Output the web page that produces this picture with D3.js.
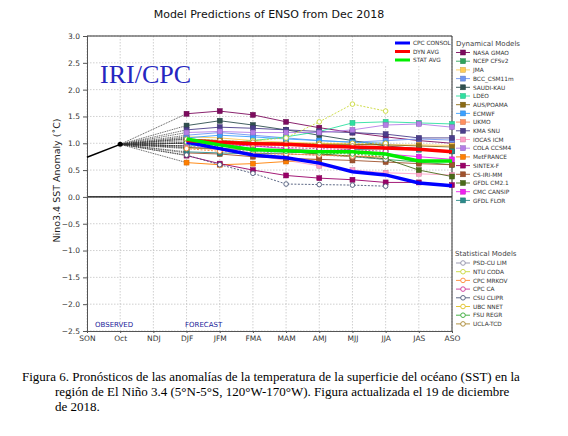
<!DOCTYPE html>
<html>
<head>
<meta charset="utf-8">
<script src="https://cdn.jsdelivr.net/npm/d3@7"></script>
<style>
  body { margin: 0; background: #fff; }
  svg { display: block; }
</style>
</head>
<body>
<div id="chart"></div>
<script>
// seasons on the x axis
const seasons = ["SON", "Oct", "NDJ", "DJF", "JFM", "FMA", "MAM", "AMJ", "MJJ", "JJA", "JAS", "ASO"];
const forecastSeasons = seasons.slice(3);
const yTicks = [-2.5, -2.0, -1.5, -1.0, -0.5, 0.0, 0.5, 1.0, 1.5, 2.0, 2.5, 3.0];

// observed values
const observed = [0.74, 0.98];

// dynamical models (DJF -> ASO)
const dynNames = ["NASA GMAO", "NCEP CFSv2", "JMA", "BCC_CSM11m", "SAUDI-KAU", "LDEO", "AUS/POAMA", "ECMWF", "UKMO",
  "KMA SNU", "IOCAS ICM", "COLA CCSM4", "MetFRANCE", "SINTEX-F", "CS-IRI-MM", "GFDL CM2.1", "CMC CANSIP", "GFDL FLOR"];
const dynColors = ["#7d0b5e", "#2fa35a", "#ffcc55", "#6f95f0", "#2f4f4f", "#2ee0a0", "#8b6a14", "#3aa0ff", "#ff9060",
  "#4b3d8b", "#ffa0c8", "#b57ee6", "#ff7f00", "#9a0068", "#a0522d", "#4a6a18", "#ee20ee", "#2a8a8a"];
const dynValues = [
  [1.55, 1.60, 1.53, 1.40, 1.29, 1.20, 1.12, 1.05, 1.00],
  [1.00, 0.98, 0.90, 0.85, 0.80, 0.75, 0.70, 0.65, 0.60],
  [1.12, 1.10, 1.05, 1.02, 1.00, 0.98, 0.97, 0.97, 0.96],
  [1.15, 1.20, 1.15, 1.10, 1.05, 1.02, 1.05, 1.08, 1.06],
  [1.33, 1.42, 1.34, 1.25, 1.15, 1.05, 0.95, 0.90, 0.85],
  [0.95, 1.00, 1.05, 1.12, 1.22, 1.38, 1.40, 1.38, 1.36],
  [1.08, 1.05, 1.02, 1.00, 0.98, 0.98, 0.97, 0.95, 0.93],
  [1.10, 1.15, 1.12, 1.08, 1.05, 1.02, 1.00],
  [0.92, 0.88, 0.82, 0.80, 0.78, 0.76, 0.74],
  [1.25, 1.30, 1.28, 1.25, 1.22, 1.20, 1.17, 1.10, 1.10],
  [0.95, 0.88, 0.78, 0.68, 0.58, 0.50, 0.45, 0.43, 0.41],
  [1.20, 1.22, 1.20, 1.20, 1.20, 1.25, 1.34, 1.36, 1.30],
  [0.64, 0.60, 0.62, 0.66, 0.70],
  [0.77, 0.62, 0.50, 0.40, 0.35, 0.32, 0.27, 0.27, 0.22],
  [0.82, 0.80, 0.75, 0.72, 0.70, 0.68, 0.65, 0.62, 0.60],
  [0.92, 0.90, 0.88, 0.85, 0.80, 0.76, 0.71, 0.50, 0.38],
  [1.00, 0.98, 0.95, 0.90, 0.85, 0.82, 0.80, 0.75, 0.70],
  [0.84, 0.82, 0.80, 0.82, 0.85, 0.88, 0.90, 0.88, 0.85]
];

// statistical models (DJF -> JJA)
const statNames = ["PSD-CU LIM", "NTU CODA", "CPC MRKOV", "CPC CA", "CSU CLIPR", "UBC NNET", "FSU REGR", "UCLA-TCD"];
const statColors = ["#9090a8", "#c8d838", "#ff8833", "#cc3399", "#4c5878", "#e0c020", "#33a833", "#a8862e"];
const statValues = [
  [0.95, 0.90, 0.85, 0.80, 0.78, 0.75, 0.70],
  [1.00, 1.00, 1.05, 1.10, 1.40, 1.73, 1.60],
  [0.90, 0.85, 0.80, 0.80, 0.78, 0.76, 0.75],
  [1.00, 0.98, 0.95, 0.92, 0.90, 0.88, 0.85],
  [0.78, 0.60, 0.44, 0.24, 0.23, 0.22, 0.20],
  [1.05, 1.00, 0.98, 0.98, 1.00, 1.00, 1.00],
  [1.02, 0.95, 0.88, 0.85, 0.82, 0.80, 0.75],
  [1.08, 1.05, 1.02, 1.00, 0.98, 0.95, 0.93]
];

// averages
const avgNames = ["CPC CONSOL", "DYN AVG", "STAT AVG"];
const avgColors = ["#0000ff", "#ff0000", "#00ee00"];
const avgValues = [
  [1.02, 0.90, 0.78, 0.73, 0.63, 0.47, 0.41, 0.26, 0.21],
  [1.05, 1.02, 0.99, 0.98, 0.95, 0.93, 0.91, 0.89, 0.84],
  [1.08, 0.97, 0.88, 0.86, 0.84, 0.84, 0.80, 0.67, 0.67]
];

const width = 568;
const height = 436;
const sans = "DejaVu Sans, sans-serif";
const serif = "Liberation Serif, serif";

const svg = d3.select("#chart")
  .append("svg")
  .attr("width", width)
  .attr("height", height)
  .attr("font-family", sans);

const x = d3.scalePoint().domain(seasons).range([87, 452]);
const y = d3.scaleLinear().domain([-2.5, 3.0]).range([331, 36]);

// grid
svg.append("g")
  .selectAll("line")
  .data(yTicks)
  .enter()
  .append("line")
  .attr("x1", x.range()[0])
  .attr("x2", x.range()[1])
  .attr("y1", d => y(d))
  .attr("y2", d => y(d))
  .attr("stroke", "#bbb")
  .attr("stroke-width", 0.7)
  .attr("stroke-dasharray", "1.5,1.5");

svg.append("g")
  .selectAll("line")
  .data(seasons)
  .enter()
  .append("line")
  .attr("x1", d => x(d))
  .attr("x2", d => x(d))
  .attr("y1", y(3.0))
  .attr("y2", y(-2.5))
  .attr("stroke", "#bbb")
  .attr("stroke-width", 0.7)
  .attr("stroke-dasharray", "1.5,1.5");

// zero line
svg.append("line")
  .attr("x1", x.range()[0]).attr("x2", x.range()[1])
  .attr("y1", y(0)).attr("y2", y(0))
  .attr("stroke", "#000").attr("stroke-width", 1.3);

// axes
const yAxis = d3.axisLeft(y).tickValues(yTicks).tickSize(4);
svg.append("g")
  .attr("transform", `translate(${x.range()[0]},0)`)
  .call(yAxis)
  .call(g => g.select(".domain").attr("stroke", "#555"))
  .call(g => g.selectAll(".tick line").attr("stroke", "#555"))
  .call(g => g.selectAll("text").attr("font-size", 7.5).attr("font-family", sans).attr("fill", "#333")
    .text(d => d < 0 ? "\u2212" + d3.format(".1f")(-d) : d3.format(".1f")(d)));

const xAxis = d3.axisBottom(x).tickSize(2);
svg.append("g")
  .attr("transform", `translate(0,${y(-2.5)})`)
  .call(xAxis)
  .call(g => g.select(".domain").attr("stroke", "#555"))
  .call(g => g.selectAll(".tick line").attr("stroke", "#555"))
  .call(g => g.selectAll("text").attr("font-size", 7.5).attr("font-family", sans).attr("fill", "#333").attr("dy", "0.6em"));

// frame top and right
svg.append("line").attr("x1", 87).attr("x2", 452).attr("y1", 36).attr("y2", 36).attr("stroke", "#333");
svg.append("line").attr("x1", 452).attr("x2", 452).attr("y1", 36).attr("y2", 331).attr("stroke", "#333");

// dotted connectors from last observation to the first forecast
const allFirst = dynValues.map(v => v[0]).concat(statValues.map(v => v[0]));
svg.append("g")
  .selectAll("line")
  .data(allFirst)
  .enter()
  .append("line")
  .attr("x1", x("Oct"))
  .attr("y1", y(observed[1]))
  .attr("x2", x("DJF"))
  .attr("y2", d => y(d))
  .attr("stroke", "#333")
  .attr("stroke-width", 0.8)
  .attr("stroke-dasharray", "1,0.8");

const line = d3.line()
  .x((d, i) => x(forecastSeasons[i]))
  .y(d => y(d));

// dynamical model lines
const dyn = svg.append("g");
dynValues.forEach(function (vals, k) {
  dyn.append("path")
    .attr("d", line(vals))
    .attr("fill", "none")
    .attr("stroke", dynColors[k])
    .attr("stroke-width", 0.9);
});
dynValues.forEach(function (vals, k) {
  dyn.selectAll(null)
    .data(vals)
    .enter()
    .append("rect")
    .attr("x", (d, i) => x(forecastSeasons[i]) - 2.5)
    .attr("y", d => y(d) - 2.5)
    .attr("width", 5)
    .attr("height", 5)
    .attr("fill", dynColors[k])
    .attr("stroke", d3.color(dynColors[k]).darker(0.6))
    .attr("stroke-width", 0.5);
});

// statistical model lines
const stat = svg.append("g");
statValues.forEach(function (vals, k) {
  stat.append("path")
    .attr("d", line(vals))
    .attr("fill", "none")
    .attr("stroke", statColors[k])
    .attr("stroke-width", 0.9)
    .attr("stroke-dasharray", "2,1.5");
  stat.selectAll(null)
    .data(vals)
    .enter()
    .append("circle")
    .attr("cx", (d, i) => x(forecastSeasons[i]))
    .attr("cy", d => y(d))
    .attr("r", 2.3)
    .attr("fill", "#fff")
    .attr("stroke", statColors[k])
    .attr("stroke-width", 0.9);
});

// averages
avgValues.forEach(function (vals, k) {
  svg.append("path")
    .attr("d", line(vals))
    .attr("fill", "none")
    .attr("stroke", avgColors[k])
    .attr("stroke-width", 3.5);
});

// observed
svg.append("path")
  .attr("d", d3.line().x((d, i) => x(seasons[i])).y(d => y(d))(observed))
  .attr("fill", "none")
  .attr("stroke", "#000")
  .attr("stroke-width", 1.5);
svg.append("circle")
  .attr("cx", x("Oct")).attr("cy", y(observed[1])).attr("r", 2.5).attr("fill", "#000");

// legend for averages
const avgLeg = svg.append("g");
avgLeg.append("rect")
  .attr("x", 384).attr("y", 37).attr("width", 67).attr("height", 28)
  .attr("fill", "#fff");
avgNames.forEach(function (name, k) {
  const yy = 43 + k * 8.5;
  avgLeg.append("line")
    .attr("x1", 395).attr("x2", 410).attr("y1", yy).attr("y2", yy)
    .attr("stroke", avgColors[k]).attr("stroke-width", 3);
  avgLeg.append("text")
    .attr("x", 413).attr("y", yy + 2.2)
    .attr("font-size", 5.8).attr("fill", "#333")
    .text(name);
});

// dynamical legend
svg.append("text")
  .attr("x", 456).attr("y", 46)
  .attr("font-size", 7).attr("fill", "#444")
  .text("Dynamical Models");
dynNames.forEach(function (name, k) {
  const yy = 52.5 + k * 8.7;
  svg.append("line")
    .attr("x1", 456).attr("x2", 470).attr("y1", yy).attr("y2", yy)
    .attr("stroke", dynColors[k]).attr("stroke-width", 0.9);
  svg.append("rect")
    .attr("x", 460.5).attr("y", yy - 2.5).attr("width", 5).attr("height", 5)
    .attr("fill", dynColors[k]).attr("stroke", d3.color(dynColors[k]).darker(0.6)).attr("stroke-width", 0.5);
  svg.append("text")
    .attr("x", 473).attr("y", yy + 2.2)
    .attr("font-size", 5.8).attr("fill", "#333")
    .text(name);
});

// statistical legend
svg.append("text")
  .attr("x", 455).attr("y", 256)
  .attr("font-size", 7).attr("fill", "#444")
  .text("Statistical Models");
statNames.forEach(function (name, k) {
  const yy = 263 + k * 8.7;
  svg.append("line")
    .attr("x1", 456).attr("x2", 470).attr("y1", yy).attr("y2", yy)
    .attr("stroke", statColors[k]).attr("stroke-width", 0.9);
  svg.append("circle")
    .attr("cx", 463).attr("cy", yy).attr("r", 2.3)
    .attr("fill", "#fff").attr("stroke", statColors[k]).attr("stroke-width", 0.9);
  svg.append("text")
    .attr("x", 473).attr("y", yy + 2.2)
    .attr("font-size", 5.8).attr("fill", "#333")
    .text(name);
});

// titles
svg.append("text")
  .attr("x", 269).attr("y", 18)
  .attr("text-anchor", "middle")
  .attr("font-size", 11)
  .attr("fill", "#111")
  .text("Model Predictions of ENSO from Dec 2018");

svg.append("text")
  .attr("transform", `translate(60,${(y(3) + y(-2.5)) / 2 - 3}) rotate(-90)`)
  .attr("text-anchor", "middle")
  .attr("font-size", 9.5)
  .attr("fill", "#222")
  .text("Nino3.4 SST Anomaly (\u02DAC)");

svg.append("text")
  .attr("x", 100).attr("y", 83)
  .attr("font-family", serif)
  .attr("font-size", 26)
  .attr("fill", "#2626c0")
  .text("IRI/CPC");

svg.append("text")
  .attr("x", 95).attr("y", 327)
  .attr("font-size", 7).attr("fill", "#1a1a99")
  .text("OBSERVED");
svg.append("text")
  .attr("x", 185).attr("y", 327)
  .attr("font-size", 7).attr("fill", "#1a1a99")
  .text("FORECAST");

// caption
const caption = [
  { x: 22, y: 381, t: "Figura 6. Pronósticos de las anomalías de la temperatura de la superficie del océano (SST) en la" },
  { x: 55, y: 396, t: "región de El Niño 3.4 (5°N-5°S, 120°W-170°W). Figura actualizada el 19 de diciembre" },
  { x: 55, y: 411, t: "de 2018." }
];
svg.append("g")
  .selectAll("text")
  .data(caption)
  .enter()
  .append("text")
  .attr("x", d => d.x)
  .attr("y", d => d.y)
  .attr("font-family", serif)
  .attr("font-size", 13)
  .attr("fill", "#000")
  .text(d => d.t);
</script>
</body>
</html>
